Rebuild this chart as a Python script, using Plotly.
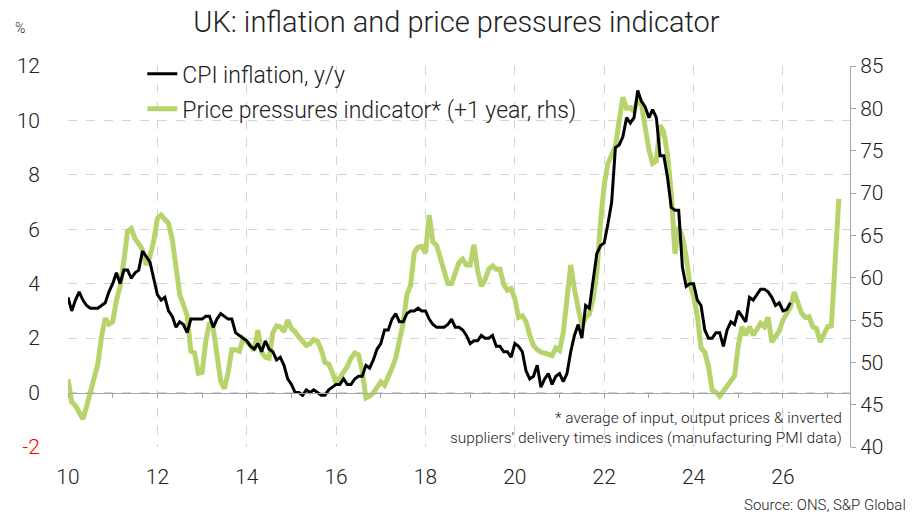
import plotly.graph_objects as go

# ---------------- data ----------------
cpi_start_year = 10.0  # Jan 2010, monthly
cpi_values = [
    3.5, 3.0, 3.4, 3.7, 3.4, 3.2, 3.1, 3.1, 3.1, 3.2, 3.3, 3.7,
    4.0, 4.4, 4.0, 4.5, 4.5, 4.2, 4.4, 4.5, 5.2, 5.0, 4.8, 4.2,
    3.6, 3.4, 3.5, 3.0, 2.8, 2.4, 2.6, 2.5, 2.2, 2.7, 2.7, 2.7,
    2.7, 2.8, 2.8, 2.4, 2.7, 2.9, 2.8, 2.7, 2.7, 2.2, 2.1, 2.0,
    1.9, 1.7, 1.6, 1.8, 1.5, 1.9, 1.6, 1.5, 1.2, 1.3, 1.0, 0.5,
    0.3, 0.0, 0.0, -0.1, 0.1, 0.0, 0.1, 0.0, -0.1, -0.1, 0.1, 0.2,
    0.3, 0.3, 0.5, 0.3, 0.3, 0.5, 0.6, 0.6, 1.0, 0.9, 1.2, 1.6,
    1.8, 2.3, 2.3, 2.7, 2.9, 2.6, 2.6, 2.9, 3.0, 3.0, 3.1, 3.0,
    3.0, 2.7, 2.5, 2.4, 2.4, 2.4, 2.5, 2.7, 2.4, 2.4, 2.3, 2.1,
    1.8, 1.9, 1.9, 2.1, 2.0, 2.0, 2.1, 1.7, 1.7, 1.5, 1.5, 1.3,
    1.8, 1.7, 1.5, 0.8, 0.5, 0.6, 1.0, 0.2, 0.5, 0.7, 0.3, 0.6,
    0.7, 0.4, 0.7, 1.5, 2.1, 2.5, 2.0, 3.2, 3.1, 4.2, 5.1, 5.4,
    5.5, 6.2, 7.0, 9.0, 9.1, 9.4, 10.1, 9.9, 10.1, 11.1, 10.7, 10.5,
    10.1, 10.4, 10.1, 8.7, 8.7, 7.9, 6.8, 6.7, 6.7, 4.6, 3.9, 4.0,
    4.0, 3.4, 3.2, 2.3, 2.0, 2.0, 2.2, 2.2, 1.7, 2.3, 2.6, 2.5,
    3.0, 2.8, 2.6, 3.5, 3.4, 3.6, 3.8, 3.8, 3.7, 3.5, 3.2, 3.3,
    3.0, 3.05, 3.3,
]

ppi_start_year = 10.0  # shifted +1 year, monthly
ppi_values = [
    48.0, 45.3, 44.9, 44.2, 43.3, 44.8, 46.5, 48.0, 49.8, 53.0, 55.2, 54.5,
    54.8, 57.3, 59.0, 62.0, 65.5, 65.8, 64.6, 64.0, 63.3, 61.5, 62.5, 64.3,
    67.0, 67.4, 67.0, 66.4, 64.5, 61.5, 58.0, 56.8, 55.5, 51.3, 51.1, 48.7,
    48.8, 52.5, 54.7, 54.0, 51.0, 47.8, 46.9, 48.8, 51.5, 51.5, 51.3, 52.8,
    52.4, 52.0, 51.4, 53.8, 51.2, 50.6, 50.5, 53.5, 54.3, 54.2, 53.6, 55.0,
    54.0, 53.6, 53.0, 52.5, 52.0, 52.2, 52.7, 52.5, 51.5, 50.0, 49.8, 48.8,
    47.5, 48.2, 48.8, 49.5, 50.5, 51.1, 50.9, 49.0, 45.8, 46.0, 46.4, 47.0,
    47.7, 47.3, 48.2, 49.3, 50.5, 52.5, 54.6, 58.0, 59.1, 63.0, 63.6, 63.7,
    62.9, 67.4, 64.2, 63.8, 62.3, 60.6, 59.3, 59.3, 60.6, 61.8, 62.2, 61.5,
    61.5, 63.9, 60.8, 59.0, 59.8, 61.0, 61.4, 61.0, 61.0, 59.2, 58.5, 58.7,
    57.5, 55.3, 55.5, 54.8, 53.2, 52.0, 51.5, 51.2, 51.1, 51.0, 50.8, 51.7,
    51.4, 53.5, 57.5, 61.5, 58.6, 56.5, 54.3, 55.3, 55.7, 57.5, 60.5, 66.5,
    71.0, 73.5, 74.5, 75.5, 78.5, 81.3, 80.0, 80.1, 79.6, 81.2, 80.4, 77.8,
    75.1, 73.5, 73.8, 78.0, 77.2, 74.5, 70.0, 62.8, 66.0, 64.8, 62.5, 59.3,
    57.8, 55.5, 51.7, 51.2, 49.5, 46.7, 46.5, 46.0, 46.6, 47.0, 47.8, 48.4,
    52.0, 54.2, 53.2, 54.2, 53.2, 53.8, 54.6, 54.2, 55.3, 52.4, 53.0, 53.7,
    55.0, 55.7, 56.5, 58.3, 56.8, 55.8, 55.3, 55.4, 54.2, 54.0, 52.4, 53.4,
    54.2, 54.3, 61.8, 69.3,
]

x_tick_vals = [10, 12, 14, 16, 18, 20, 22, 24, 26]
left_tick_vals = [-2, 0, 2, 4, 6, 8, 10, 12]
right_tick_vals = [40, 45, 50, 55, 60, 65, 70, 75, 80, 85]

cpi_x = [cpi_start_year + i / 12 for i in range(len(cpi_values))]
ppi_x = [ppi_start_year + i / 12 for i in range(len(ppi_values))]

left_tick_text = [
    "<span style='color:#ff0000'>%d</span>" % v if v < 0 else str(v)
    for v in left_tick_vals
]

FONT = "Roboto Light, Roboto, sans-serif"
TXT = "#222222"
GRID = "#d4d4d4"
AXIS = "#a6a6a6"

fig = go.Figure()
fig.add_trace(go.Scatter(
    x=ppi_x, y=ppi_values, yaxis="y", mode="lines",
    line=dict(color="#b7d46c", width=5),
    name="Price pressures indicator* (+1 year, rhs)", legendrank=2,
    legendgroup="ppi",
))
fig.add_trace(go.Scatter(
    x=cpi_x, y=cpi_values, yaxis="y2", mode="lines",
    line=dict(color="#000000", width=3),
    name="CPI inflation, y/y", legendrank=1, legendgroup="cpi",
))

fig.update_layout(
    width=913, height=516,
    margin=dict(l=68, r=63, t=66, b=69, autoexpand=False),
    paper_bgcolor="white", plot_bgcolor="white",
    font=dict(family=FONT, color=TXT, size=21),
    title=dict(text="UK: inflation and price pressures indicator",
               x=0.5, xanchor="center", y=1 - 22 / 516, yanchor="middle",
               font=dict(family=FONT, size=29, color=TXT)),
    showlegend=True,
    legend=dict(x=0.095, y=1.036, xanchor="left", yanchor="top",
                tracegroupgap=2, traceorder="grouped",
                bgcolor="rgba(0,0,0,0)",
                font=dict(family=FONT, size=23, color=TXT)),
    xaxis=dict(
        range=[10, 27.5], tickvals=x_tick_vals, showgrid=True,
        gridcolor=GRID, griddash="dash", gridwidth=1,
        anchor="free", position=2 / 14, showline=True, linecolor=AXIS,
        linewidth=1, ticks="outside", ticklen=4, tickcolor=AXIS,
        minor=dict(dtick=1, tick0=10, ticks="outside", ticklen=4,
                   tickcolor=AXIS, showgrid=False),
        ticklabelstandoff=61, zeroline=False,
        tickfont=dict(family=FONT, size=21, color=TXT),
    ),
    yaxis=dict(
        range=[40, 85], side="right", tickvals=right_tick_vals,
        showline=True, linecolor=AXIS, linewidth=1, ticks="outside",
        ticklen=5, tickcolor=AXIS, showgrid=False, zeroline=False,
        tickfont=dict(family=FONT, size=21, color=TXT),
    ),
    yaxis2=dict(
        range=[-2, 12], side="left", overlaying="y", tickvals=left_tick_vals,
        ticktext=left_tick_text, showgrid=True, gridcolor=GRID,
        griddash="dash", gridwidth=1, zeroline=False, showline=False,
        ticks="", ticklabelstandoff=27,
        tickfont=dict(family=FONT, size=21, color=TXT),
    ),
    annotations=[
        dict(text="%", xref="paper", yref="paper", x=(20 - 68) / 782,
             y=(447 - 28) / 381, xanchor="center", yanchor="middle",
             showarrow=False, font=dict(family=FONT, size=14, color=TXT)),
        dict(text="* average of input, output prices & inverted<br>"
                  "suppliers' delivery times indices (manufacturing PMI data)",
             xref="paper", yref="paper", x=(844 - 68) / 782,
             y=(447 - 428) / 381, xanchor="right", yanchor="middle",
             align="right", showarrow=False,
             font=dict(family=FONT, size=15.5, color=TXT)),
        dict(text="Source: ONS, S&P Global", xref="paper", yref="paper",
             x=(908 - 68) / 782, y=(447 - 505) / 381, xanchor="right",
             yanchor="middle", showarrow=False,
             font=dict(family=FONT, size=15, color=TXT)),
    ],
)

fig.write_html("out.html", config={"displayModeBar": False},
               post_script="document.body.style.margin='0px';")
